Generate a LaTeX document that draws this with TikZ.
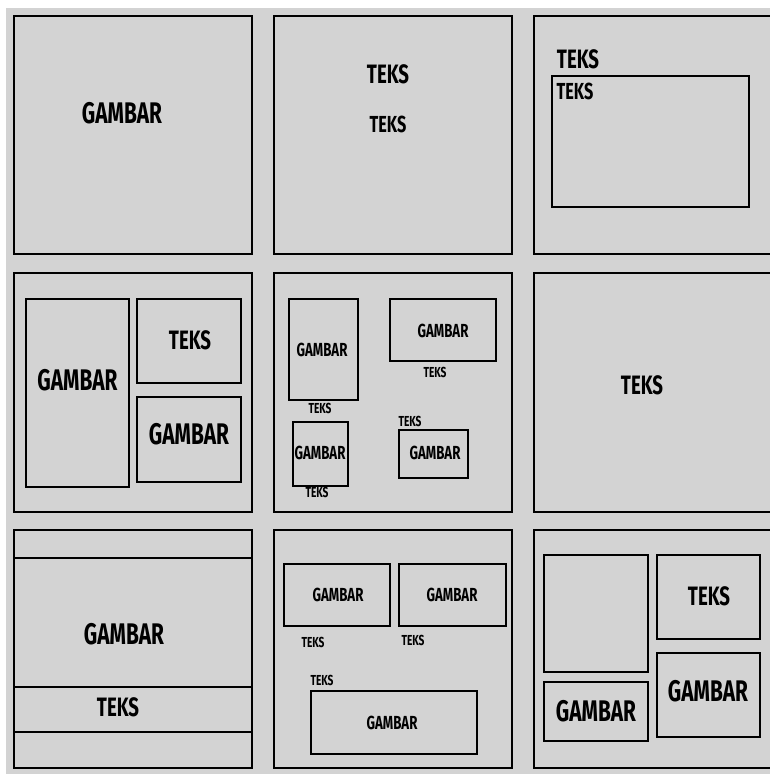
\documentclass[tikz,border=0pt]{standalone}
\usepackage{fontspec}
\newfontfamily\layfont[FakeStretch=0.70]{Fira Sans}
\definecolor{bggray}{HTML}{D3D3D3}
\tikzset{
  panel/.style={draw=black, line width=2.9pt},
  frame/.style={draw=black, line width=2.5pt},
  lblA/.style={inner sep=0pt, font=\layfont\bfseries\fontsize{29.8}{30}\selectfont},
  lblB/.style={inner sep=0pt, font=\layfont\bfseries\fontsize{26.6}{27}\selectfont},
  lblC/.style={inner sep=0pt, font=\layfont\bfseries\fontsize{23.2}{24}\selectfont},
  lblD/.style={inner sep=0pt, font=\layfont\bfseries\fontsize{18.9}{19}\selectfont},
  lblE/.style={inner sep=0pt, font=\layfont\bfseries\fontsize{14.5}{15}\selectfont}
}
\begin{document}
\begin{tikzpicture}[x=1pt, y=-1pt]
  \useasboundingbox (0,0) rectangle (770,774);
  \fill[white] (0,0) rectangle (770,774);
  \fill[bggray] (6,8) rectangle (770,774);
  % the nine panels
  \foreach \xa/\xb in {14/252, 274/512, 534/790}
    \foreach \ya/\yb in {16/254, 273/512, 530/768}
      \draw[panel] (\xa,\ya) rectangle (\xb,\yb);
  % row 1
  \node[lblA] (gambarA) at (122,113) {GAMBAR};
  \node[lblB] (teksA) at (388,74) {TEKS};
  \node[lblC] (teksB) at (388,124) {TEKS};
  \node[lblB] (teksC) at (578,59) {TEKS};
  \draw[frame] (552,76) rectangle (749,207);
  \node[lblC] (teksD) at (575,91) {TEKS};
  % row 2, left
  \draw[frame] (26,299) rectangle (129,487);
  \draw[frame] (137,299) rectangle (241,383);
  \draw[frame] (137,397) rectangle (241,482);
  \node[lblA] (gambarB) at (77.5,380) {GAMBAR};
  \node[lblB] (teksE) at (190,340) {TEKS};
  \node[lblA] (gambarC) at (189,434) {GAMBAR};
  % row 2, middle
  \draw[frame] (289,299) rectangle (358,400);
  \draw[frame] (390,299) rectangle (496,361);
  \draw[frame] (293,422) rectangle (348,486);
  \draw[frame] (399,430) rectangle (468,478);
  \node[lblD] (gambarD) at (322,350) {GAMBAR};
  \node[lblE] (teksF) at (320,408) {TEKS};
  \node[lblD] (gambarE) at (443,331) {GAMBAR};
  \node[lblE] (teksG) at (435,372) {TEKS};
  \node[lblD] (gambarF) at (320,453) {GAMBAR};
  \node[lblE] (teksH) at (317,492) {TEKS};
  \node[lblD] (gambarG) at (435,453) {GAMBAR};
  \node[lblE] (teksI) at (410,421) {TEKS};
  % row 2, right
  \node[lblB] (teksJ) at (642,385) {TEKS};
  % row 3, left
  \draw[frame] (14,558) -- (252,558);
  \draw[frame] (14,687) -- (252,687);
  \draw[frame] (14,732) -- (252,732);
  \node[lblA] (gambarH) at (124,634) {GAMBAR};
  \node[lblB] (teksK) at (118,707) {TEKS};
  % row 3, middle
  \draw[frame] (284,564) rectangle (390,626);
  \draw[frame] (399,564) rectangle (506,626);
  \draw[frame] (311,691) rectangle (477,754);
  \node[lblD] (gambarI) at (338,595) {GAMBAR};
  \node[lblE] (teksL) at (313,642) {TEKS};
  \node[lblD] (gambarJ) at (452,595) {GAMBAR};
  \node[lblE] (teksM) at (413,640) {TEKS};
  \node[lblE] (teksN) at (322,680) {TEKS};
  \node[lblD] (gambarK) at (392,723) {GAMBAR};
  % row 3, right
  \draw[frame] (544,555) rectangle (648,672);
  \draw[frame] (544,682) rectangle (648,741);
  \draw[frame] (657,555) rectangle (760,639);
  \draw[frame] (657,653) rectangle (760,737);
  \node[lblA] (gambarL) at (596,711) {GAMBAR};
  \node[lblB] (teksO) at (709,596) {TEKS};
  \node[lblA] (gambarM) at (708,691) {GAMBAR};
\end{tikzpicture}
\end{document}
